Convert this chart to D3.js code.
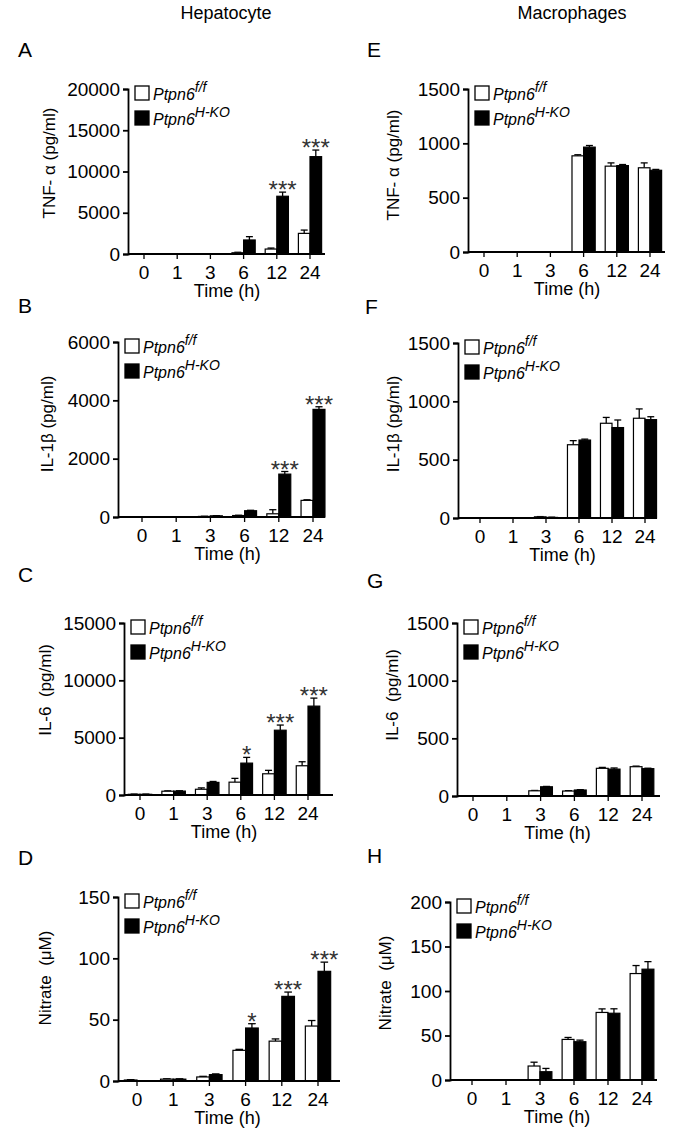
<!DOCTYPE html>
<html>
<head>
<meta charset="utf-8">
<script src="https://cdn.jsdelivr.net/npm/d3@7"></script>
<style>
  body { margin: 0; background: #fff; }
  svg text { font-family: "Liberation Sans", Arial, sans-serif; fill: #000; }
</style>
</head>
<body>
<div id="chart"></div>
<script>
/* time points shared by all panels */
const timeLabels = ["0", "1", "3", "6", "12", "24"];
const seriesKeys = ["ff", "hko"];
const seriesSup = ["f/f", "H-KO"];

/* A: TNF-a, hepatocyte */
const tnfHepFF = [0, 0, 0, 150, 600, 2500];
const tnfHepFFErr = [0, 0, 0, 60, 120, 400];
const tnfHepKO = [0, 0, 0, 1700, 7000, 11800];
const tnfHepKOErr = [0, 0, 0, 400, 500, 800];
const tnfHepStars = ["", "", "", "", "***", "***"];

/* E: TNF-a, macrophages */
const tnfMacFF = [0, 0, 0, 885, 790, 775];
const tnfMacFFErr = [0, 0, 0, 10, 30, 45];
const tnfMacKO = [0, 0, 0, 965, 795, 752];
const tnfMacKOErr = [0, 0, 0, 15, 10, 8];

/* B: IL-1b, hepatocyte */
const il1HepFF = [0, 0, 20, 50, 110, 570];
const il1HepFFErr = [0, 0, 5, 10, 140, 20];
const il1HepKO = [0, 0, 40, 215, 1470, 3690];
const il1HepKOErr = [0, 0, 5, 15, 90, 90];
const il1HepStars = ["", "", "", "", "***", "***"];

/* F: IL-1b, macrophages */
const il1MacFF = [0, 0, 10, 628, 812, 855];
const il1MacFFErr = [0, 0, 2, 35, 50, 80];
const il1MacKO = [0, 0, 5, 668, 775, 843];
const il1MacKOErr = [0, 0, 2, 8, 65, 25];

/* C: IL-6, hepatocyte */
const il6HepFF = [60, 330, 500, 1120, 1850, 2550];
const il6HepFFErr = [20, 30, 120, 330, 300, 350];
const il6HepKO = [60, 340, 1100, 2780, 5650, 7750];
const il6HepKOErr = [20, 30, 80, 500, 450, 700];
const il6HepStars = ["", "", "", "*", "***", "***"];

/* G: IL-6, macrophages */
const il6MacFF = [0, 0, 45, 43, 240, 254];
const il6MacFFErr = [0, 0, 3, 3, 8, 5];
const il6MacKO = [0, 0, 80, 52, 233, 237];
const il6MacKOErr = [0, 0, 3, 3, 10, 4];

/* D: nitrate, hepatocyte */
const noHepFF = [0.8, 1.5, 3.3, 25, 32.5, 44.8];
const noHepFFErr = [0.3, 0.3, 0.5, 0.8, 1.8, 4.5];
const noHepKO = [0, 1.5, 5.2, 43.2, 69, 89.4];
const noHepKOErr = [0, 0.3, 0.6, 3.5, 3.5, 7.5];
const noHepStars = ["", "", "", "*", "***", "***"];

/* H: nitrate, macrophages */
const noMacFF = [0, 0, 15.7, 45.6, 75.9, 119.6];
const noMacFFErr = [0, 0, 4.3, 2.2, 4, 9];
const noMacKO = [0, 0, 9.3, 43, 75, 124.5];
const noMacKOErr = [0, 0, 3.7, 1.8, 5, 8.5];

const noStars = ["", "", "", "", "", ""];

/* panel layout (pixel positions) */
const panels = [
    { letter: "A", lx: 18, ly: 57, ax: 128, top: 89, base: 254, c0: 144, c5: 310, right: 325, ylx: 49, yly: 163,
      label: "TNF- α (pg/ml)", max: 20000, ticks: [0, 5000, 10000, 15000, 20000],
      ff: tnfHepFF, ffErr: tnfHepFFErr, ko: tnfHepKO, koErr: tnfHepKOErr, stars: tnfHepStars },
    { letter: "E", lx: 367, ly: 57, ax: 468, top: 89, base: 252, c0: 484, c5: 650, right: 665, ylx: 393, yly: 165,
      label: "TNF- α (pg/ml)", max: 1500, ticks: [0, 500, 1000, 1500],
      ff: tnfMacFF, ffErr: tnfMacFFErr, ko: tnfMacKO, koErr: tnfMacKOErr, stars: noStars },
    { letter: "B", lx: 18, ly: 313, ax: 118, top: 342, base: 517, c0: 142, c5: 313, right: 325, ylx: 47, yly: 424,
      label: "IL-1β (pg/ml)", max: 6000, ticks: [0, 2000, 4000, 6000],
      ff: il1HepFF, ffErr: il1HepFFErr, ko: il1HepKO, koErr: il1HepKOErr, stars: il1HepStars },
    { letter: "F", lx: 365, ly: 314, ax: 458, top: 343, base: 518, c0: 480, c5: 645, right: 657, ylx: 393, yly: 424,
      label: "IL-1β (pg/ml)", max: 1500, ticks: [0, 500, 1000, 1500],
      ff: il1MacFF, ffErr: il1MacFFErr, ko: il1MacKO, koErr: il1MacKOErr, stars: noStars },
    { letter: "C", lx: 18, ly: 582, ax: 124, top: 623, base: 795, c0: 140, c5: 308, right: 333, ylx: 45, yly: 690,
      label: "IL-6  (pg/ml)", max: 15000, ticks: [0, 5000, 10000, 15000],
      ff: il6HepFF, ffErr: il6HepFFErr, ko: il6HepKO, koErr: il6HepKOErr, stars: il6HepStars },
    { letter: "G", lx: 367, ly: 588, ax: 457, top: 623, base: 796, c0: 473, c5: 642, right: 660, ylx: 392, yly: 695,
      label: "IL-6  (pg/ml)", max: 1500, ticks: [0, 500, 1000, 1500],
      ff: il6MacFF, ffErr: il6MacFFErr, ko: il6MacKO, koErr: il6MacKOErr, stars: noStars },
    { letter: "D", lx: 18, ly: 865, ax: 118, top: 897, base: 1081, c0: 137, c5: 318, right: 340, ylx: 45, yly: 978,
      label: "Nitrate  (μM)", max: 150, ticks: [0, 50, 100, 150],
      ff: noHepFF, ffErr: noHepFFErr, ko: noHepKO, koErr: noHepKOErr, stars: noHepStars },
    { letter: "H", lx: 367, ly: 863, ax: 450, top: 902, base: 1080, c0: 472, c5: 642, right: 657, ylx: 385, yly: 983,
      label: "Nitrate  (μM)", max: 200, ticks: [0, 50, 100, 150, 200],
      ff: noMacFF, ffErr: noMacFFErr, ko: noMacKO, koErr: noMacKOErr, stars: noStars }
];

const svg = d3.select("#chart")
    .append("svg")
    .attr("width", 675)
    .attr("height", 1140);

/* column headers */
svg.append("text").attr("x", 226).attr("y", 19).attr("text-anchor", "middle")
    .style("font-size", "18px").text("Hepatocyte");
svg.append("text").attr("x", 572).attr("y", 19).attr("text-anchor", "middle")
    .style("font-size", "18px").text("Macrophages");

panels.forEach(p => {
    const g = svg.append("g");

    g.append("text").attr("x", p.lx).attr("y", p.ly)
        .style("font-size", "21px").text(p.letter);

    const step = (p.c5 - p.c0) / 5;
    const x = d3.scaleBand()
        .domain(timeLabels)
        .range([p.c0 - step / 2, p.c5 + step / 2]);
    const xs = d3.scaleBand()
        .domain(seriesKeys)
        .range([0, x.bandwidth()])
        .paddingOuter(0.43)
        .paddingInner(0);
    const y = d3.scaleLinear()
        .domain([0, p.max])
        .range([p.base, p.top]);

    /* rows for the bars */
    const rows = [];
    timeLabels.forEach((t, i) => {
        rows.push({ t: t, key: "ff", v: p.ff[i], e: p.ffErr[i] });
        rows.push({ t: t, key: "hko", v: p.ko[i], e: p.koErr[i] });
    });

    /* error bars (upper only) */
    const eb = g.append("g").selectAll("g")
        .data(rows.filter(d => d.e > 0))
        .join("g");
    eb.append("line")
        .attr("x1", d => x(d.t) + xs(d.key) + xs.bandwidth() / 2)
        .attr("x2", d => x(d.t) + xs(d.key) + xs.bandwidth() / 2)
        .attr("y1", d => y(d.v))
        .attr("y2", d => y(d.v + d.e))
        .attr("stroke", "#000").attr("stroke-width", 1.3);
    eb.append("line")
        .attr("x1", d => x(d.t) + xs(d.key) + xs.bandwidth() * 0.2)
        .attr("x2", d => x(d.t) + xs(d.key) + xs.bandwidth() * 0.8)
        .attr("y1", d => y(d.v + d.e))
        .attr("y2", d => y(d.v + d.e))
        .attr("stroke", "#000").attr("stroke-width", 1.3);

    /* bars */
    g.append("g").selectAll("rect")
        .data(rows.filter(d => d.v > 0))
        .join("rect")
        .attr("x", d => x(d.t) + xs(d.key))
        .attr("y", d => y(d.v))
        .attr("width", xs.bandwidth())
        .attr("height", d => p.base - y(d.v))
        .attr("fill", d => d.key === "ff" ? "#fff" : "#000")
        .attr("stroke", "#000")
        .attr("stroke-width", 1.2);

    /* significance stars over the KO bar */
    g.append("g").selectAll("text")
        .data(timeLabels.map((t, i) => ({ t: t, s: p.stars[i], top: p.ko[i] + p.koErr[i] })).filter(d => d.s))
        .join("text")
        .attr("x", d => x(d.t) + xs("hko") + xs.bandwidth() / 2)
        .attr("y", d => y(d.top) + 6)
        .attr("text-anchor", "middle")
        .style("font-size", "24px")
        .style("fill", "#333")
        .text(d => d.s);

    /* y axis */
    const yAxis = g.append("g")
        .attr("transform", `translate(${p.ax},0)`)
        .call(d3.axisLeft(y).tickValues(p.ticks).tickFormat(d3.format("d")).tickSizeOuter(0).tickSize(5).tickPadding(3));
    yAxis.select(".domain").attr("stroke-width", 1.8);
    yAxis.selectAll(".tick line").attr("stroke-width", 1.8);
    yAxis.selectAll("text").style("font-size", "19px").style("font-family", "Liberation Sans, Arial, sans-serif");

    /* x axis */
    g.append("line")
        .attr("x1", p.ax).attr("x2", p.right)
        .attr("y1", p.base).attr("y2", p.base)
        .attr("stroke", "#000").attr("stroke-width", 1.8);
    g.append("g").selectAll("line")
        .data(timeLabels)
        .join("line")
        .attr("x1", d => x(d) + x.bandwidth() / 2)
        .attr("x2", d => x(d) + x.bandwidth() / 2)
        .attr("y1", p.base).attr("y2", p.base + 5)
        .attr("stroke", "#000").attr("stroke-width", 1.3);
    g.append("g").selectAll("text")
        .data(timeLabels)
        .join("text")
        .attr("x", d => x(d) + x.bandwidth() / 2)
        .attr("y", p.base + 25)
        .attr("text-anchor", "middle")
        .style("font-size", "19px")
        .text(d => d);
    g.append("text")
        .attr("x", (p.c0 + p.c5) / 2)
        .attr("y", p.base + 43)
        .attr("text-anchor", "middle")
        .style("font-size", "18px")
        .text("Time (h)");

    /* y axis title */
    g.append("text")
        .attr("transform", `translate(${p.ylx},${p.yly}) rotate(-90)`)
        .attr("text-anchor", "middle")
        .attr("dy", "0.35em")
        .style("font-size", "17px")
        .style("white-space", "pre")
        .text(p.label);

    /* legend */
    seriesKeys.forEach((k, i) => {
        const ly = p.top - 3 + i * 25;
        g.append("rect")
            .attr("x", p.ax + 7).attr("y", ly)
            .attr("width", 14).attr("height", 14)
            .attr("fill", k === "ff" ? "#fff" : "#000")
            .attr("stroke", "#000").attr("stroke-width", 1.3);
        const t = g.append("text")
            .attr("x", p.ax + 25).attr("y", ly + 14)
            .style("font-size", "16px").style("font-style", "italic");
        t.append("tspan").text("Ptpn6");
        t.append("tspan").attr("dy", -8).style("font-size", "14px").text(seriesSup[i]);
    });
});
</script>
</body>
</html>
